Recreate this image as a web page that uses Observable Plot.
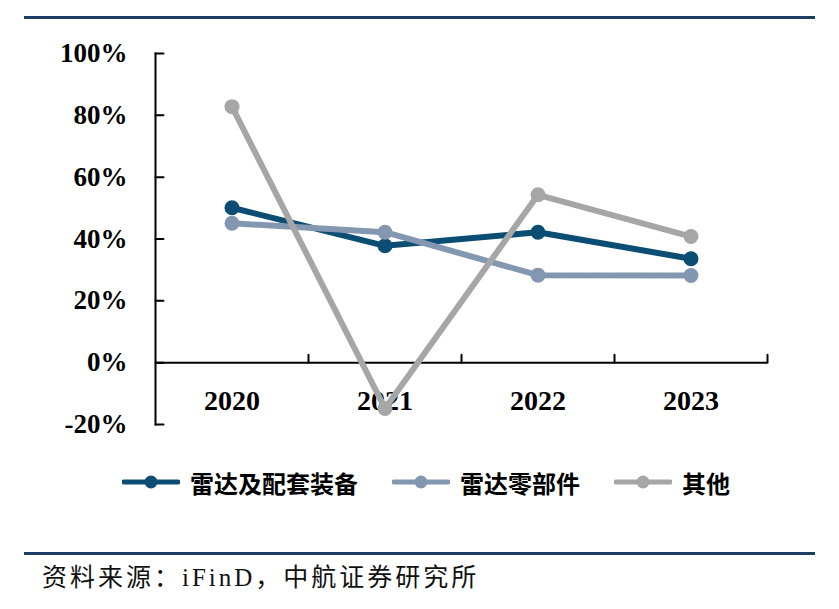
<!DOCTYPE html>
<html>
<head>
<meta charset="utf-8">
<script src="https://cdn.jsdelivr.net/npm/d3@7"></script>
<script src="https://cdn.jsdelivr.net/npm/@observablehq/plot@0.6"></script>
<style>
  html, body { margin: 0; padding: 0; background: #fff; }
  #wrap { position: relative; width: 839px; height: 609px; overflow: hidden; }
  .rule { position: absolute; left: 24px; width: 791px; height: 3px; background: #1d3d64; }
  #chart { position: absolute; left: 0; top: 0; }
  #legend { position: absolute; left: 122px; top: 467px; display: flex; align-items: center; height: 30px;
            font-family: "Noto Sans CJK SC", sans-serif; font-weight: 700; font-size: 24px; color: #000; }
  .item { display: flex; align-items: center; margin-right: 34px; }
  .item svg { margin-right: 10px; }
  #caption { position: absolute; left: 42px; top: 562px; font-family: "Liberation Serif", "Noto Sans CJK SC", serif;
             font-size: 25px; letter-spacing: 3px; color: #111; line-height: 32px; white-space: nowrap; }
</style>
</head>
<body>
<div id="wrap">
  <div class="rule" style="top:16px"></div>
  <div id="chart"></div>
  <div id="legend"></div>
  <div class="rule" style="top:552px"></div>
  <div id="caption">资料来源：iFinD，中航证券研究所</div>
</div>
<script>
const years = [2020, 2021, 2022, 2023];
const seriesNames = ["雷达及配套装备", "雷达零部件", "其他"];
const radarEquip = [50.1, 37.8, 42.2, 33.6];
const radarParts = [45.1, 42.2, 28.3, 28.2];
const others = [82.8, -14.8, 54.3, 40.8];
const colors = ["#0c4d74", "#8497b0", "#a6a6a6"];
const yTicks = [-20, 0, 20, 40, 60, 80, 100];

const seriesValues = [radarEquip, radarParts, others];
const data = seriesValues.map((vals, s) => years.map((year, i) => ({series: seriesNames[s], year, value: vals[i]})));
const boundaries = years.map(y => ({x: y + 0.5}));

const lineShape = {draw(context, l) { context.moveTo(0, 0); context.lineTo(0, -l); }};
const tickFont = "Liberation Serif, Times New Roman, serif";

const seriesMarks = data.flatMap((d, s) => [
  Plot.line(d, {x: "year", y: "value", stroke: colors[s], strokeWidth: 6, strokeLinejoin: "round"}),
  Plot.dot(d, {x: "year", y: "value", r: 7.5, fill: colors[s], stroke: "none"})
]);

const chart = Plot.plot({
  width: 839,
  height: 450,
  marginLeft: 155,
  marginRight: 72,
  marginTop: 53,
  marginBottom: 26,
  x: {type: "linear", domain: [2019.5, 2023.5], axis: null},
  y: {domain: [-20, 100], axis: null},
  style: {background: "transparent", overflow: "visible"},
  marks: [
    Plot.frame({anchor: "left", stroke: "#000", strokeWidth: 2}),
    Plot.ruleY([0], {stroke: "#000", strokeWidth: 2}),
    Plot.vector(yTicks, {y: d => d, frameAnchor: "left", rotate: 90, length: 8, anchor: "start", shape: lineShape, stroke: "#000", strokeWidth: 2}),
    Plot.vector(boundaries, {x: "x", y: d => 0, rotate: 0, length: 8, anchor: "start", shape: lineShape, stroke: "#000", strokeWidth: 2}),
    Plot.axisY({ticks: yTicks, label: null, tickSize: 0, tickPadding: 28, tickFormat: d => d + "%", fontSize: 27, fontWeight: "bold", fontFamily: tickFont, fill: "#000"}),
    Plot.text(years, {x: d => d, y: d => 0, dy: 38, text: d => String(d), fontSize: 28, fontWeight: "bold", fontFamily: tickFont, fill: "#000"}),
    ...seriesMarks
  ]
});
document.getElementById("chart").appendChild(chart);

const legend = document.getElementById("legend");
seriesNames.forEach((name, s) => {
  const item = document.createElement("div");
  item.className = "item";
  item.innerHTML = `<svg width="58" height="16"><line x1="2" y1="8" x2="56" y2="8" stroke="${colors[s]}" stroke-width="5" stroke-linecap="round"/><circle cx="29" cy="8" r="6.5" fill="${colors[s]}"/></svg><span>${name}</span>`;
  legend.appendChild(item);
});
</script>
</body>
</html>
